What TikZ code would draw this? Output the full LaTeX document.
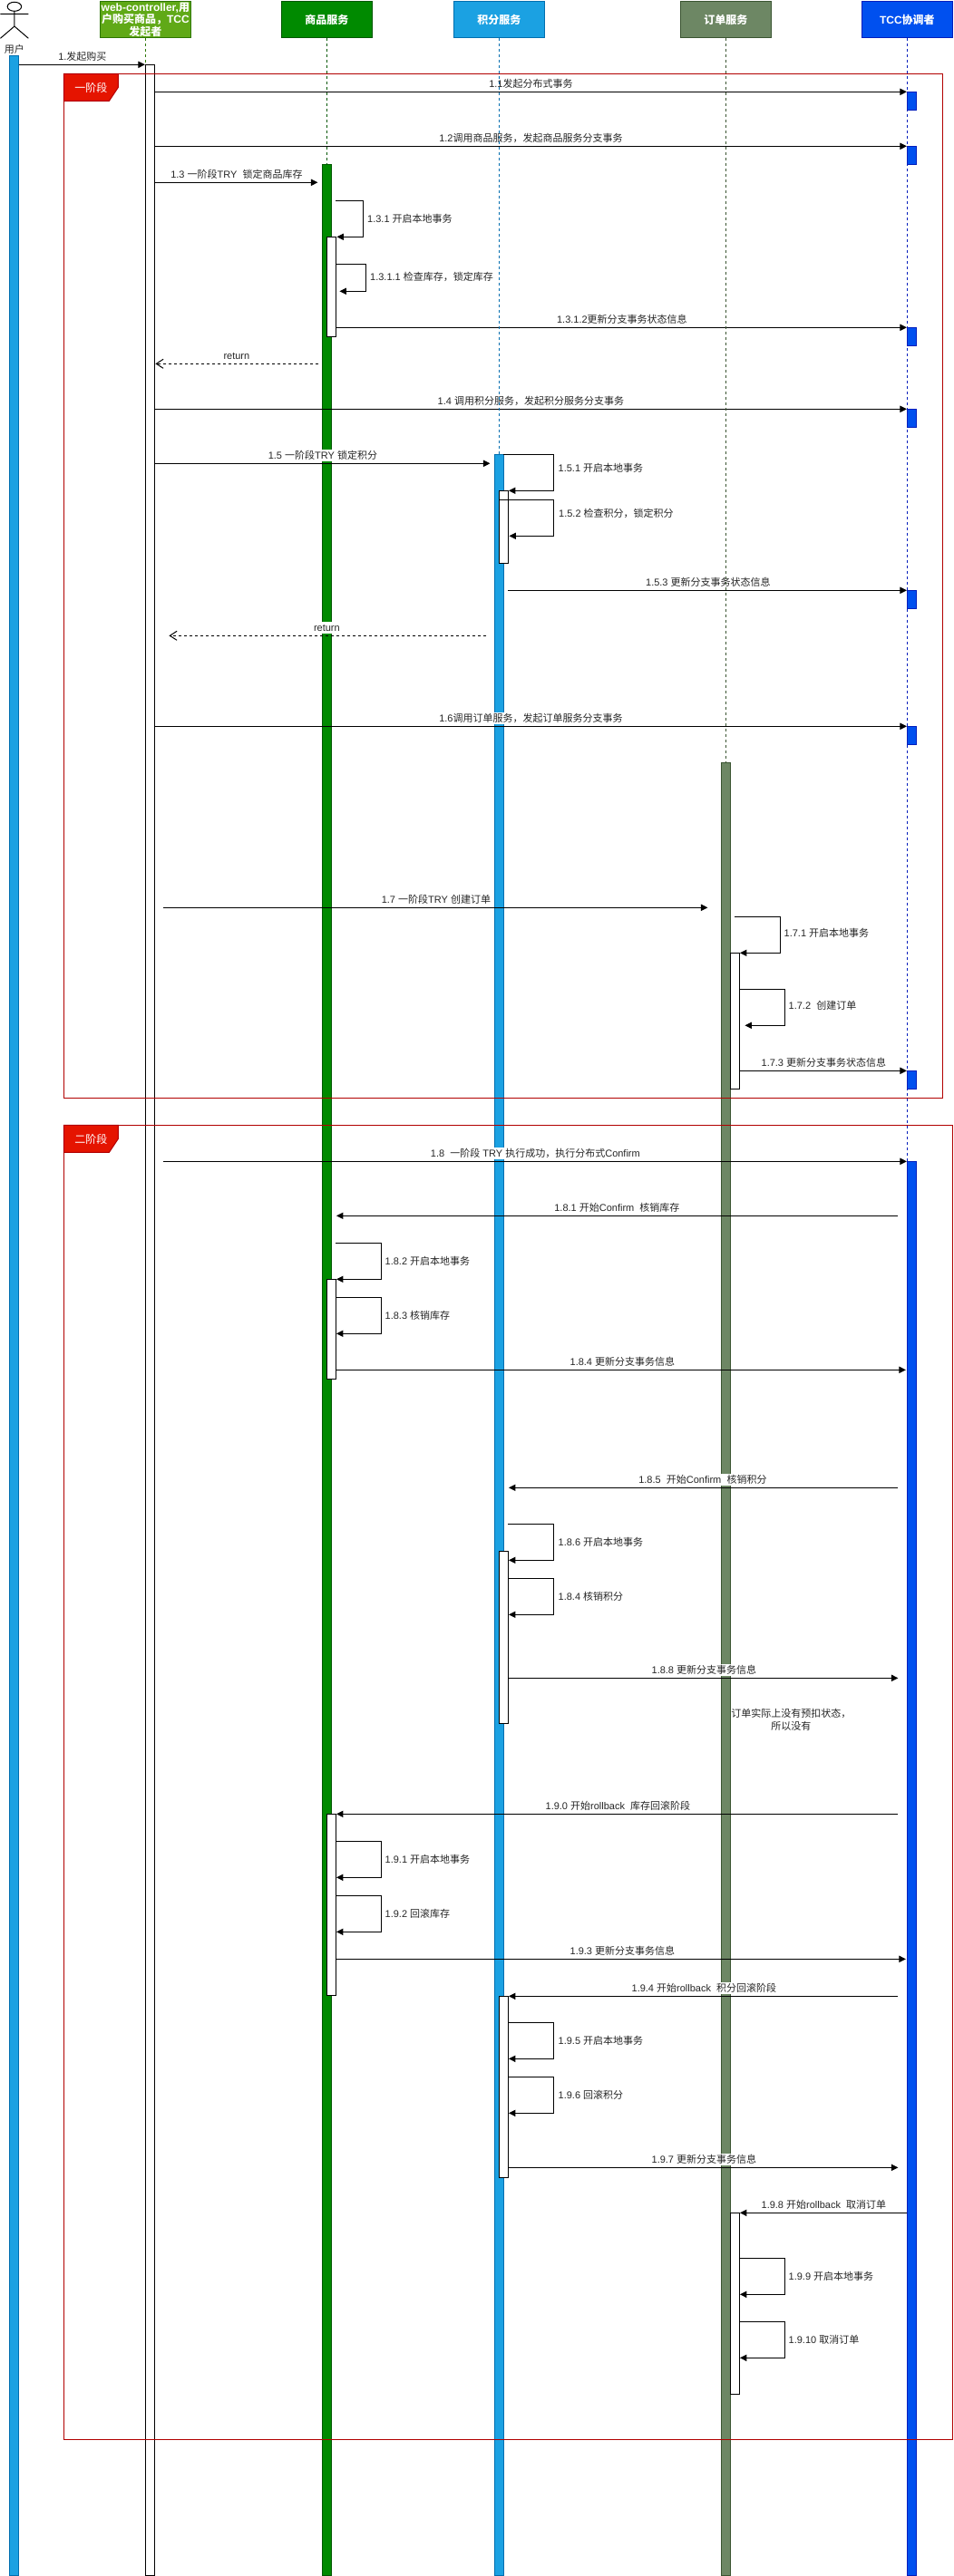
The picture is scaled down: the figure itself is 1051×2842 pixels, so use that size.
\documentclass[tikz,border=0pt]{standalone}
\usepackage{fontspec}
\setmainfont{Liberation Sans}
\newfontfamily\cjkfam{Noto Sans CJK SC}
\newcommand\C[1]{{\cjkfam #1}}
\usetikzlibrary{arrows.meta,fit,shapes.geometric}
\tikzset{
  headbox/.style={draw=#1,line width=.75pt,inner sep=0pt,outer sep=0pt,text=white,font=\fontsize{9}{10.5}\selectfont\bfseries,align=center},
  lifebar/.style={inner sep=0pt,outer sep=0pt,line width=.75pt},
  whitebar/.style={lifebar,draw=black,fill=white},
  lifeline/.style={line width=.75pt,dash pattern=on 2.25pt off 2.25pt},
  msgline/.style={draw=black,line width=.75pt,-{Triangle[length=5.6pt,width=5.4pt]}},
  retline/.style={draw=black,line width=.75pt,dash pattern=on 2.25pt off 2.25pt,-{Straight Barb[length=5.8pt,width=7.5pt]}},
  msglabel/.style={font=\fontsize{8.25}{10}\selectfont,fill=white,inner xsep=.4pt,inner ysep=.75pt,text height=6.9pt,text depth=1.35pt,text=black!85},
  selflabel/.style={font=\fontsize{8.25}{10}\selectfont,inner sep=0pt,anchor=west,text height=6.9pt,text depth=1.35pt,text=black!85},
  framebox/.style={draw=framered,line width=.75pt,inner sep=0pt,outer sep=0pt},
  tabshape/.style={fill=tabred,draw=framered,line width=.75pt},
  tabtext/.style={text=white,font=\fontsize{9}{10}\selectfont,inner sep=0pt}
}
\definecolor{framered}{HTML}{B20000}
\definecolor{tabred}{HTML}{E51400}
\definecolor{ublue}{HTML}{1BA1E2}
\definecolor{ubluedk}{HTML}{006EAF}
\definecolor{wgreen}{HTML}{60A917}
\definecolor{wgreendk}{HTML}{2D7600}
\definecolor{ggreen}{HTML}{008A00}
\definecolor{ggreendk}{HTML}{005700}
\definecolor{oolive}{HTML}{6D8764}
\definecolor{oolivedk}{HTML}{3A5431}
\definecolor{tblue}{HTML}{0050EF}
\definecolor{tbluedk}{HTML}{001DBC}
% box spanning two corners
\newcommand\actbox[6]{\node[#1,fit={(#3,#4)(#5,#6)}] (#2) {};}
% straight message: style, id, x1, x2, y, label x, text
\newcommand\msg[7]{%
  \coordinate (#2a) at (#3,#5);
  \coordinate (#2b) at (#4,#5);
  \node[msglabel] (#2l) at (#6,#5-9) {#7};
  \draw[#1] (#2a) -- (#2b);}
% self message: id, x start, x right, y1, y2, x tip, label x, label y, text
\newcommand\selfmsg[9]{%
  \coordinate (#1a) at (#2,#4);
  \coordinate (#1b) at (#6,#5);
  \coordinate (#1c) at (#3,#4);
  \coordinate (#1d) at (#3,#5);
  \node[selflabel] (#1l) at (#7,#8) {#9};
  \draw[msgline] (#1a) -- (#1c) -- (#1d) -- (#1b);}
\begin{document}
\begin{tikzpicture}[x=.75pt,y=-.75pt]
\path[use as bounding box,fill=white] (0,0) rectangle (1051,2842);
\begin{scope}[shift={(.4,.3)}]
% headers
\node[headbox=wgreendk,fill=wgreen,minimum width=75pt,minimum height=30pt] (web) at (160,21.5) {web-controller,\C{用}\\[-.6pt]\C{户购买商品，}TCC\\[-.6pt]\C{发起者}};
\node[headbox=ggreendk,fill=ggreen,minimum width=75pt,minimum height=30pt] (goods) at (360,21.5) {\C{商品服务}};
\node[headbox=ubluedk,fill=ublue,minimum width=75pt,minimum height=30pt] (points) at (550,21.5) {\C{积分服务}};
\node[headbox=oolivedk,fill=oolive,minimum width=75pt,minimum height=30pt] (orders) at (800,21.5) {\C{订单服务}};
\node[headbox=tbluedk,fill=tblue,minimum width=75pt,minimum height=30pt] (tcc) at (1000,21.5) {TCC\C{协调者}};
% actor
\node[draw=black,line width=.75pt,ellipse,minimum width=11.6pt,minimum height=7.5pt,inner sep=0pt,outer sep=0pt] (ahead) at (15.5,7) {};
\coordinate (ahip) at (15.5,28.7);
\coordinate (aarml) at (0,15);
\coordinate (aarmr) at (31,15);
\coordinate (alegl) at (0,42);
\coordinate (alegr) at (31,42);
\draw[line width=.75pt] (ahead.south) -- (ahip) (aarml) -- (aarmr) (alegl) -- (ahip) -- (alegr);
\node[font=\fontsize{8.25}{10}\selectfont,inner sep=0pt,text=black!85] (auser) at (15.5,54) {\C{用户}};
% long activation bars
\actbox{lifebar,draw=ubluedk,fill=ublue}{ubar}{10.5}{61}{20.5}{2841}
\actbox{whitebar}{webbar}{160}{71}{170}{2841}
\actbox{lifebar,draw=ggreendk,fill=ggreen}{gbar}{355}{181}{365}{2841}
\actbox{lifebar,draw=ubluedk,fill=ublue}{pbar}{545}{501}{555}{2841}
\actbox{lifebar,draw=oolivedk,fill=oolive}{obar}{795}{841}{805}{2841}
\actbox{lifebar,draw=tbluedk,fill=tblue}{tbar}{1000}{1281}{1010}{2841}
% small coordinator bars
\foreach \n/\t in {a/101,b/161,c/361,d/451,e/651,f/801,g/1181}{
  \pgfmathtruncatemacro\bt{\t+20}
  \actbox{lifebar,draw=tbluedk,fill=tblue}{ts\n}{1000}{\t}{1010}{\bt}
}
% white nested bars
\actbox{whitebar}{g1}{360}{261}{370}{371}
\actbox{whitebar}{p1}{550}{541}{560}{621}
\actbox{whitebar}{o1}{805}{1051}{815}{1201}
\actbox{whitebar}{g2}{360}{1411}{370}{1521}
\actbox{whitebar}{p2}{550}{1711}{560}{1901}
\actbox{whitebar}{g3}{360}{2001}{370}{2201}
\actbox{whitebar}{p3}{550}{2202}{560}{2402}
\actbox{whitebar}{o2}{805}{2441}{815}{2641}
% frames
\actbox{framebox}{frameA}{70}{81}{1039}{1211}
\actbox{framebox}{frameB}{70}{1241}{1050}{2691}
\draw[tabshape] (frameA.north west) -- ++(60,0) -- ++(0,15) -- ++(-10,15) -- ++(-50,0) -- cycle;
\node[tabtext] (tabA) at (100,96.5) {\C{一阶段}};
\draw[tabshape] (frameB.north west) -- ++(60,0) -- ++(0,15) -- ++(-10,15) -- ++(-50,0) -- cycle;
\node[tabtext] (tabB) at (100,1256.5) {\C{二阶段}};
% messages, stage one
\msg{msgline}{m0}{21}{159.5}{71}{90.5}{1.\C{发起购买}}
\msg{msgline}{m11}{170}{999.5}{101}{585}{1.1\C{发起分布式事务}}
\msg{msgline}{m12}{170}{999.5}{161}{585}{1.2\C{调用商品服务，发起商品服务分支事务}}
\msg{msgline}{m13}{170}{350}{201}{260.5}{1.3 \C{一阶段}TRY~~\C{锁定商品库存}}
\selfmsg{s131}{370}{400}{221}{261}{371}{404.5}{241}{1.3.1 \C{开启本地事务}}
\selfmsg{s1311}{370}{403}{291}{321}{374}{407.5}{305}{1.3.1.1 \C{检查库存，锁定库存}}
\msg{msgline}{m1312}{370}{999.5}{361}{685.5}{1.3.1.2\C{更新分支事务状态信息}}
\msg{retline}{r1}{351}{171}{401}{260.5}{return}
\msg{msgline}{m14}{170}{999.5}{451}{585}{1.4 \C{调用积分服务，发起积分服务分支事务}}
\msg{msgline}{m15}{170}{540}{511}{355.5}{1.5 \C{一阶段}TRY \C{锁定积分}}
\selfmsg{s151}{555}{610}{501}{541}{560.5}{615}{516}{1.5.1 \C{开启本地事务}}
\selfmsg{s152}{550}{610.5}{551}{591}{561}{615.5}{566}{1.5.2 \C{检查积分，锁定积分}}
\msg{msgline}{m153}{560}{999.5}{651}{780.5}{1.5.3 \C{更新分支事务状态信息}}
\msg{retline}{r2}{536}{186}{701}{360}{return}
\msg{msgline}{m16}{170}{999.5}{801}{585}{1.6\C{调用订单服务，发起订单服务分支事务}}
\msg{msgline}{m17}{180}{780}{1001}{480.5}{1.7 \C{一阶段}TRY \C{创建订单}}
\selfmsg{s171}{810}{860}{1011}{1051}{815.5}{864}{1029}{1.7.1 \C{开启本地事务}}
\selfmsg{s172}{815}{865}{1091}{1131}{821}{869}{1109}{1.7.2~~\C{创建订单}}
\msg{msgline}{m173}{815}{999.5}{1181}{908}{1.7.3 \C{更新分支事务状态信息}}
% messages, stage two
\msg{msgline}{m18}{180}{999.5}{1281}{590}{1.8~~\C{一阶段} TRY \C{执行成功，执行分布式}Confirm}
\msg{msgline}{m181}{990}{370.5}{1341}{680}{1.8.1 \C{开始}Confirm~~\C{核销库存}}
\selfmsg{s182}{370}{420}{1371}{1411}{370.5}{424}{1391}{1.8.2 \C{开启本地事务}}
\selfmsg{s183}{370}{420}{1431}{1471}{370.5}{424}{1451}{1.8.3 \C{核销库存}}
\msg{msgline}{m184}{370}{998.5}{1511}{686}{1.8.4 \C{更新分支事务信息}}
\msg{msgline}{m185}{990}{560.5}{1641}{774.5}{1.8.5~~\C{开始}Confirm~~\C{核销积分}}
\selfmsg{s186}{560}{610}{1681}{1721}{560.5}{615}{1701}{1.8.6 \C{开启本地事务}}
\selfmsg{s187}{560}{610}{1741}{1781}{560.5}{615}{1761}{1.8.4 \C{核销积分}}
\msg{msgline}{m188}{560}{990}{1851}{776}{1.8.8 \C{更新分支事务信息}}
\node[font=\fontsize{8.25}{10.5}\selectfont,align=center,inner sep=0pt,text=black!85] (note) at (872,1897) {\C{订单实际上没有预扣状态，}\\\C{所以没有}};
\msg{msgline}{m190}{990}{370.5}{2001}{681}{1.9.0 \C{开始}rollback~~\C{库存回滚阶段}}
\selfmsg{s191}{370}{420}{2031}{2071}{370.5}{424}{2051}{1.9.1 \C{开启本地事务}}
\selfmsg{s192}{370}{420}{2091}{2131}{370.5}{424}{2111}{1.9.2 \C{回滚库存}}
\msg{msgline}{m193}{370}{998.5}{2161}{686}{1.9.3 \C{更新分支事务信息}}
\msg{msgline}{m194}{990}{560.5}{2202}{776}{1.9.4 \C{开始}rollback~~\C{积分回滚阶段}}
\selfmsg{s195}{560}{610}{2231}{2271}{560.5}{615}{2251}{1.9.5 \C{开启本地事务}}
\selfmsg{s196}{560}{610}{2291}{2331}{560.5}{615}{2311}{1.9.6 \C{回滚积分}}
\msg{msgline}{m197}{560}{990}{2391}{776}{1.9.7 \C{更新分支事务信息}}
\msg{msgline}{m198}{1000}{815.5}{2441}{908}{1.9.8 \C{开始}rollback~~\C{取消订单}}
\selfmsg{s199}{815}{865}{2491}{2531}{815.5}{869}{2511}{1.9.9 \C{开启本地事务}}
\selfmsg{s1910}{815}{865}{2561}{2601}{815.5}{869}{2581}{1.9.10 \C{取消订单}}
% lifelines
\draw[lifeline,draw=wgreendk] (web.south) -- (webbar.north west);
\draw[lifeline,draw=ggreendk] (goods.south) -- (gbar.north);
\draw[lifeline,draw=ubluedk] (points.south) -- (pbar.north);
\draw[lifeline,draw=oolivedk] (orders.south) -- (obar.north);
\draw[lifeline,draw=tbluedk] (tcc.south) -- (tbar.north west);
\end{scope}
\end{tikzpicture}
\end{document}
